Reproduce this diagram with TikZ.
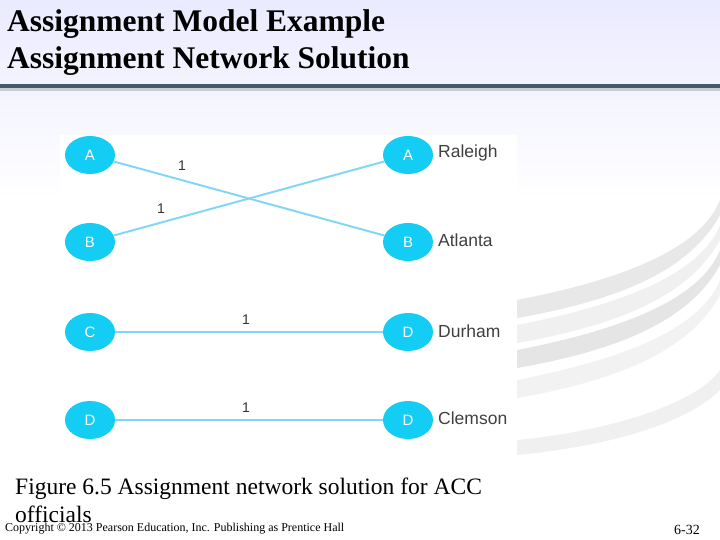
\documentclass[tikz,border=0pt]{standalone}
\usepackage{fontspec}
\setmainfont{Liberation Serif}
\newfontfamily\arial{Liberation Sans}
\usetikzlibrary{shapes.geometric}
\definecolor{nodecyan}{RGB}{20,205,245}
\definecolor{edgecyan}{RGB}{130,215,245}
\definecolor{rulec}{RGB}{70,90,110}
\begin{document}
\begin{tikzpicture}[x=1pt,y=-1pt,
  nd/.style={ellipse,fill=nodecyan,minimum width=50,minimum height=38,inner sep=0,text=white,font=\arial\fontsize{15}{15}\selectfont},
  city/.style={anchor=west,text=black!75,font=\arial\fontsize{17.5}{17.5}\selectfont,inner sep=0},
  ed/.style={draw=edgecyan,line width=2pt},
  wt/.style={font=\arial\fontsize{14}{14}\selectfont,text=black!80,inner sep=1}]
\useasboundingbox (0,0) rectangle (720,540);
\shade[top color=blue!8,bottom color=white] (0,0) rectangle (720,200);
\fill[white] (0,200) rectangle (720,540);
% decorative swooshes
\foreach \o/\c in {0/black!9,25/black!6,50/black!10,80/black!5}{
  \fill[\c] (517,300+\o) .. controls (620,280+\o) and (700,250+\o) .. (720,200+\o) -- (720,215+\o) .. controls (690,270+\o) and (620,300+\o) .. (517,318+\o) -- cycle;}
\fill[black!6] (517,440) .. controls (620,430) and (700,400) .. (720,370) -- (720,390) .. controls (690,420) and (620,445) .. (517,455) -- cycle;
\node[anchor=north west,inner sep=0,font=\bfseries\fontsize{31.5}{37}\selectfont,align=left] (title) at (7,9) {Assignment Model Example\\Assignment Network Solution};
\fill[rulec] (0,84) rectangle (720,88);
\fill[rulec!30] (0,88) rectangle (720,91);
\fill[white] (60,135) rectangle (517,442);
\node[nd] (a1) at (90,155) {A};
\node[nd] (b1) at (90,242) {B};
\node[nd] (c1) at (90,332) {C};
\node[nd] (d1) at (90,420) {D};
\node[nd] (a2) at (408,155) {A};
\node[nd] (b2) at (408,242) {B};
\node[nd] (d2) at (408,332) {D};
\node[nd] (d3) at (408,420) {D};
\node[city] (r) at (438,153) {Raleigh};
\node[city] (at) at (438,240) {Atlanta};
\node[city] (du) at (438,331) {Durham};
\node[city] (cl) at (438,418) {Clemson};
\draw[ed] (a1) -- (b2);
\draw[ed] (b1) -- (a2);
\draw[ed] (c1) -- (d2);
\draw[ed] (d1) -- (d3);
\node[wt] (w1) at (182,166) {1};
\node[wt] (w2) at (161,209) {1};
\node[wt] (w3) at (246,320) {1};
\node[wt] (w4) at (246,408) {1};
\node[anchor=north west,inner sep=0,font=\fontsize{23.5}{28}\selectfont,align=left] (cap) at (15,478) {Figure 6.5 Assignment network solution for ACC\\officials};
\node[anchor=west,inner sep=0,font=\fontsize{12}{12}\selectfont] (copy) at (5,529) {Copyright \textcopyright{} 2013 Pearson Education, Inc. Publishing as Prentice Hall};
\node[anchor=east,inner sep=0,font=\fontsize{14}{14}\selectfont] (pg) at (700,530) {6-32};
\end{tikzpicture}
\end{document}
